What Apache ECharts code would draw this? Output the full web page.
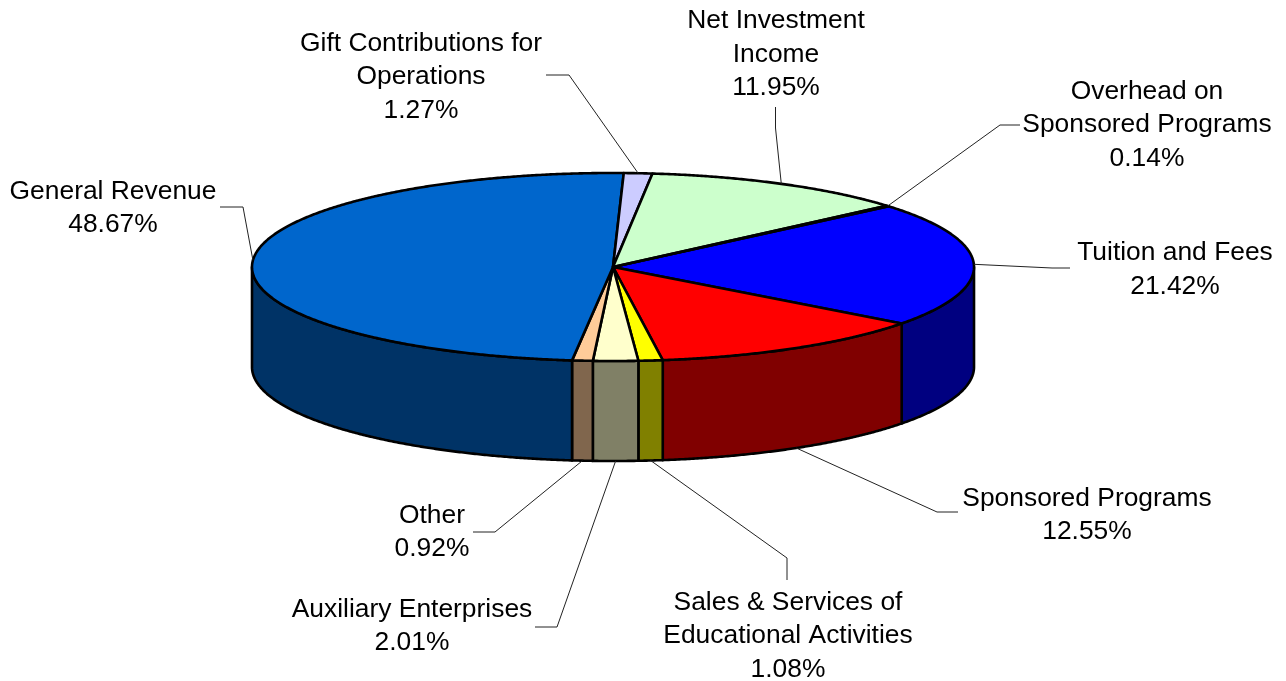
<!DOCTYPE html>
<html>
<head>
<meta charset="utf-8">
<style>html,body{margin:0;padding:0;background:#fff}#chart{width:1286px;height:681px}</style>
<script src="https://cdn.jsdelivr.net/npm/echarts@6/dist/echarts.min.js"></script>
</head>
<body>
<div id="chart"></div>
<script>
// Data, clockwise from the Tuition / Overhead boundary
var categories = ['Tuition and Fees', 'Sponsored Programs', 'Sales & Services of\nEducational Activities', 'Auxiliary Enterprises', 'Other', 'General Revenue', 'Gift Contributions for\nOperations', 'Net Investment\nIncome', 'Overhead on\nSponsored Programs'];
var values = [21.42, 12.55, 1.08, 2.01, 0.92, 48.67, 1.27, 11.95, 0.14];

// Styling
var topColors  = ['#0000FF', '#FF0000', '#FFFF00', '#FFFFCC', '#FFCC99', '#0066CC', '#CCCCFF', '#CCFFCC', '#99CCFF'];
var sideColors = ['#000080', '#800000', '#808000', '#808066', '#80664D', '#003366', '#666680', '#668066', '#4D6680'];

// Layout: label centres and leader-line runs (label end, elbow)
var labelCenters = [[1175, 269.5], [1087, 515], [788, 636], [412, 626], [432, 532], [113, 208], [421, 77], [776, 54.5], [1147, 125]];
var leaderRuns = [
  [[1070, 268], [1052, 268]], [[958, 512], [937, 512]], [[787, 580], [787, 558]],
  [[535, 627], [557, 627]], [[473, 532], [495, 532]], [[220, 207], [243, 207]],
  [[546, 75], [569, 75]], [[775.5, 107], [775.5, 128]], [[1020, 125], [1000, 125]]
];
var pie = { cx: 613, cy: 267, rx: 361, ry: 94, depth: 100, startDeg: -40.2 };

var total = values.reduce(function (a, b) { return a + b; }, 0);
var cumulative = [0];
values.forEach(function (v, i) { cumulative.push(cumulative[i] + v); });
function angleOf(v) {
  return echarts.number.linearMap(v, [0, total], [pie.startDeg, pie.startDeg + 360]) * Math.PI / 180;
}
function rim(t, dy) {
  return [pie.cx + pie.rx * Math.cos(t), pie.cy + (dy || 0) + pie.ry * Math.sin(t)];
}
function arc(a, b, dy) {
  var n = Math.max(2, Math.ceil(Math.abs(b - a) * 180 / Math.PI * 3)), pts = [];
  for (var i = 0; i <= n; i++) pts.push(rim(a + (b - a) * i / n, dy));
  return pts;
}
var outline = { stroke: '#000', lineWidth: 2.6, lineJoin: 'round' };

function renderItem(params, api) {
  var i = params.dataIndex;
  var a = angleOf(cumulative[i]), b = angleOf(cumulative[i + 1]);
  var children = [];

  // Visible front wall: the part of the slice with angle inside (0, PI), modulo 2PI
  [0, 2 * Math.PI].forEach(function (off) {
    var s = Math.max(a, off), e = Math.min(b, off + Math.PI);
    if (e > s) {
      children.push({
        type: 'polygon', z2: 1,
        shape: { points: arc(s, e, 0).concat(arc(e, s, pie.depth)) },
        style: Object.assign({ fill: sideColors[i] }, outline)
      });
    }
  });

  // Top face
  children.push({
    type: 'polygon', z2: 2,
    shape: { points: [[pie.cx, pie.cy]].concat(arc(a, b, 0)) },
    style: Object.assign({ fill: topColors[i] }, outline)
  });

  // Leader line from the label to the middle of the slice's outer rim
  var mid = (a + b) / 2;
  var front = Math.sin(mid) > 0;
  var run = leaderRuns[i];
  children.push({
    type: 'polyline', z2: 3,
    shape: { points: [run[0], run[1], rim(mid, front ? pie.depth : 0)] },
    style: { fill: null, stroke: '#222', lineWidth: 1 }
  });

  // Label
  children.push({
    type: 'text', z2: 4,
    style: {
      x: labelCenters[i][0], y: labelCenters[i][1],
      text: categories[i] + '\n' + api.value(0).toFixed(2) + '%',
      align: 'center', verticalAlign: 'middle',
      fontFamily: '"Liberation Sans", Arial, sans-serif', fontSize: 26.4, lineHeight: 33.5,
      fill: '#000'
    }
  });
  return { type: 'group', children: children };
}

var chart = echarts.init(document.getElementById('chart'), null, { renderer: 'canvas' });
chart.setOption({
  animation: false,
  backgroundColor: '#fff',
  series: [{
    type: 'custom',
    coordinateSystem: 'none',
    renderItem: renderItem,
    clip: false,
    data: categories.map(function (c, i) { return { name: c, value: [values[i]] }; })
  }]
});
</script>
</body>
</html>
